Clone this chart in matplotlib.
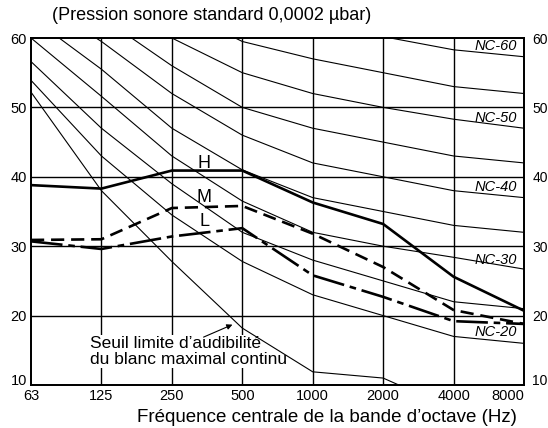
import numpy as np
import matplotlib
matplotlib.use("Agg")
import matplotlib.pyplot as plt

freqs = ["63", "125", "250", "500", "1000", "2000", "4000", "8000"]
yticks = [10, 20, 30, 40, 50, 60]

nc_curves = {
    "NC-20": [53.9, 43.0, 34.5, 27.8, 23.0, 20.0, 17.0, 16.0],
    "NC-25": [56.6, 47.0, 39.0, 32.0, 28.0, 25.0, 22.0, 21.0],
    "NC-30": [60.0, 51.6, 43.0, 36.5, 32.0, 30.0, 28.4, 26.7],
    "NC-35": [63.0, 55.5, 47.0, 41.0, 37.0, 35.0, 33.0, 32.0],
    "NC-40": [66.0, 59.5, 52.0, 46.0, 42.0, 40.0, 38.0, 37.0],
    "NC-45": [70.0, 63.0, 56.0, 50.0, 47.0, 45.0, 43.0, 42.0],
    "NC-50": [74.0, 67.0, 60.0, 55.0, 52.0, 50.0, 48.3, 47.0],
    "NC-55": [78.0, 71.0, 64.5, 59.5, 57.0, 55.0, 53.0, 52.0],
    "NC-60": [82.0, 75.0, 69.0, 64.0, 62.0, 60.2, 58.3, 57.3],
}
nc_labels = ["NC-60", "NC-50", "NC-40", "NC-30", "NC-20"]
nc_label_y = [58.8, 48.5, 38.5, 28.0, 17.6]

threshold = [52.2, 38.0, 27.8, 18.2, 11.9, 11.0, 6.5, np.nan]

H = [38.8, 38.3, 40.9, 40.9, 36.3, 33.2, 25.6, 20.7]
M = [30.9, 31.0, 35.5, 35.8, 31.8, 27.0, 20.8, 18.8]
L = [30.7, 29.6, 31.4, 32.6, 25.8, 22.7, 19.2, 18.8]

title = "(Pression sonore standard 0,0002 µbar)"
xlabel = "Fréquence centrale de la bande d\u2019octave (Hz)"
note = "Seuil limite d\u2019audibilité\ndu blanc maximal continu"

plt.rcParams["font.family"] = ["Liberation Sans", "DejaVu Sans"]

fig = plt.figure(figsize=(5.48, 4.28), dpi=100)
ax = fig.add_axes([31/548, 1-385/428, (524-31)/548, (385-38)/428])
x = np.arange(len(freqs))

ax.set_xlim(0, len(freqs)-1)
ax.set_ylim(10, 60)
for xi in x[1:-1]:
    ax.axvline(xi, color="black", lw=1.0, zorder=1)
for yv in yticks[1:-1]:
    ax.axhline(yv, color="black", lw=1.0, zorder=1)

for name, vals in nc_curves.items():
    ax.plot(x, vals, color="black", lw=0.8, zorder=3)
ax.plot(x, threshold, color="black", lw=0.8, zorder=3)

ax.plot(x, H, color="black", lw=1.9, zorder=4)
ax.plot(x, M, color="black", lw=1.9, ls=(0, (5, 2.6)), zorder=4)
ax.plot(x, L, color="black", lw=1.9, ls=(0, (12, 2.2, 2.5, 2.2)), zorder=4)

ax.text(2.46, 41.9, "H", fontsize=13, ha="center", va="center", zorder=5)
ax.text(2.46, 37.0, "M", fontsize=13, ha="center", va="center", zorder=5)
ax.text(2.46, 33.6, "L", fontsize=13, ha="center", va="center", zorder=5)

for lab, yy in zip(nc_labels, nc_label_y):
    ax.text(6.6, yy, lab, fontsize=10.5, style="italic", ha="center", va="center",
            zorder=5)

ax.text(0.84, 14.8, note, fontsize=12.5, ha="left", va="center", linespacing=1.1,
        zorder=2, bbox=dict(facecolor="white", edgecolor="none", pad=0.5))
ax.annotate("", xy=(2.86, 18.7), xytext=(2.45, 16.9),
            arrowprops=dict(arrowstyle="-|>", color="black", lw=0.8,
                            mutation_scale=8, shrinkA=0, shrinkB=0), zorder=5)

ax.set_xticks(x)
ax.set_xticklabels(freqs, fontsize=10.5)
ax.set_yticks(yticks)
ax.set_yticklabels([str(v) for v in yticks], fontsize=10.5)
ax.tick_params(axis="both", length=0, pad=3)
xt = ax.xaxis.get_major_ticks()
xt[-1].label1.set_ha("right")
xt[-1].label1.set_x(7.03)
yt = ax.yaxis.get_major_ticks()
yt[0].label1.set_va("baseline")

ax2 = ax.twinx()
ax2.set_ylim(10, 60)
ax2.set_yticks(yticks)
ax2.set_yticklabels([str(v) for v in yticks], fontsize=10)
ax2.tick_params(axis="y", length=0, pad=6)
ax2.yaxis.get_major_ticks()[0].label2.set_va("baseline")
ax2.set_zorder(0)

for a in (ax, ax2):
    for sp in a.spines.values():
        sp.set_linewidth(1.3)
        sp.set_zorder(6)

fig.text(52/548, 1-15/428, title, fontsize=13, ha="left", va="center")
fig.text(327/548, 1-418/428, xlabel, fontsize=13.5, ha="center", va="center")

fig.savefig("out.png", dpi=100)
